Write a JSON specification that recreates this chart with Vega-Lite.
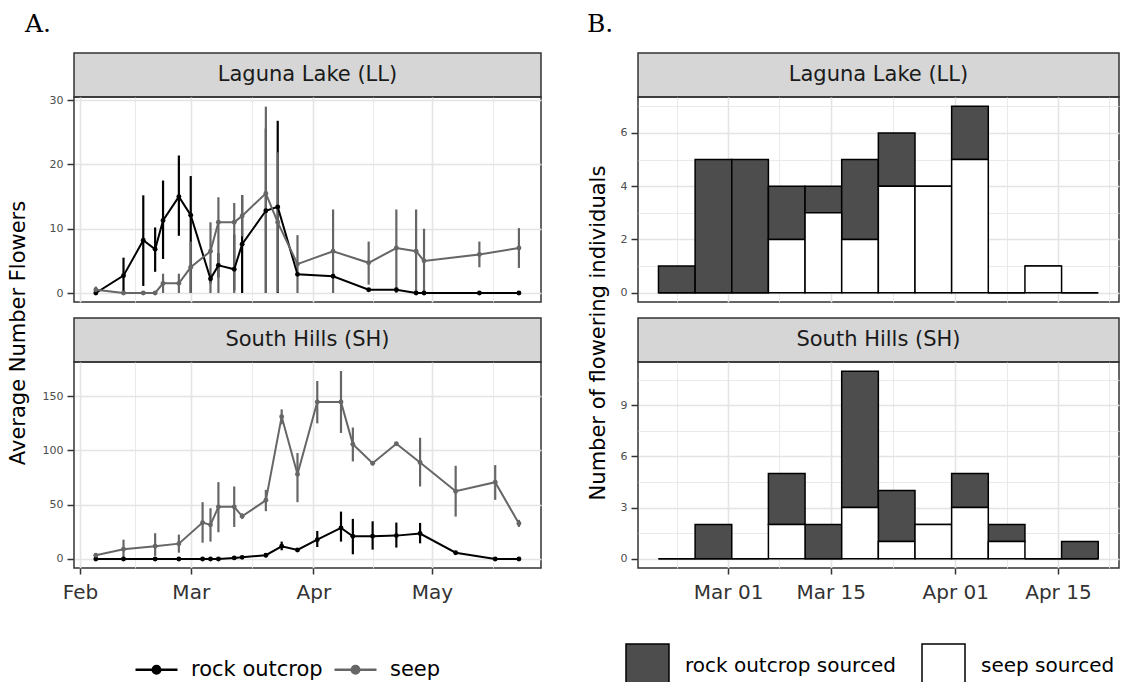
{
"$schema": "https://vega.github.io/schema/vega-lite/v6.json",
"padding": {"left": 6, "top": 12, "right": 0, "bottom": 0},
"background": "white",
"config": {
  "font": "DejaVu Sans",
  "view": {"stroke": "#333333", "strokeWidth": 1.5},
  "axis": {"domain": false, "gridColor": "#e4e4e4", "tickColor": "#333333", "tickWidth": 1.5, "tickSize": 7, "labelFont": "DejaVu Sans", "titleFont": "DejaVu Sans", "titleFontWeight": "normal", "titleFontSize": 21, "titleColor": "#000000"},
  "axisY": {"labelFontSize": 11, "labelColor": "#4d4d4d", "labelPadding": 4},
  "axisX": {"labelFontSize": 20, "labelColor": "#333333", "labelPadding": 8, "tickSize": 6},
  "legend": {"labelFont": "DejaVu Sans", "labelFontSize": 21, "labelColor": "#000000", "labelBaseline": "middle", "labelLimit": 0},
  "title": {"font": "DejaVu Serif", "fontSize": 25, "fontWeight": "normal", "anchor": "start", "color": "#000000"}
},
"datasets": {
  "flw": [
    {"site":"LL","source":"rock outcrop","date":"2019-02-05T00:00","mean":0,"lo":0,"hi":0.3},
    {"site":"LL","source":"rock outcrop","date":"2019-02-12T00:00","mean":2.7,"lo":0,"hi":5.5},
    {"site":"LL","source":"rock outcrop","date":"2019-02-17T00:00","mean":8.2,"lo":1.1,"hi":15.2},
    {"site":"LL","source":"rock outcrop","date":"2019-02-20T00:00","mean":6.8,"lo":3.3,"hi":10.2},
    {"site":"LL","source":"rock outcrop","date":"2019-02-22T00:00","mean":11.3,"lo":5.3,"hi":17.5},
    {"site":"LL","source":"rock outcrop","date":"2019-02-26T00:00","mean":15.0,"lo":8.9,"hi":21.4},
    {"site":"LL","source":"rock outcrop","date":"2019-03-01T00:00","mean":12.1,"lo":0,"hi":18.2},
    {"site":"LL","source":"rock outcrop","date":"2019-03-06T00:00","mean":2.2,"lo":1.5,"hi":3.0},
    {"site":"LL","source":"rock outcrop","date":"2019-03-08T00:00","mean":4.3,"lo":2.4,"hi":6.2},
    {"site":"LL","source":"rock outcrop","date":"2019-03-12T00:00","mean":3.7,"lo":0.4,"hi":9.1},
    {"site":"LL","source":"rock outcrop","date":"2019-03-14T00:00","mean":7.6,"lo":0,"hi":15.2},
    {"site":"LL","source":"rock outcrop","date":"2019-03-20T00:00","mean":12.8,"lo":0,"hi":25.6},
    {"site":"LL","source":"rock outcrop","date":"2019-03-23T00:00","mean":13.4,"lo":0,"hi":26.8},
    {"site":"LL","source":"rock outcrop","date":"2019-03-28T00:00","mean":2.9,"lo":2.9,"hi":2.9},
    {"site":"LL","source":"rock outcrop","date":"2019-04-06T00:00","mean":2.6,"lo":2.6,"hi":2.6},
    {"site":"LL","source":"rock outcrop","date":"2019-04-15T00:00","mean":0.5,"lo":0.5,"hi":0.5},
    {"site":"LL","source":"rock outcrop","date":"2019-04-22T00:00","mean":0.5,"lo":0.5,"hi":0.5},
    {"site":"LL","source":"rock outcrop","date":"2019-04-27T00:00","mean":0,"lo":0,"hi":0},
    {"site":"LL","source":"rock outcrop","date":"2019-04-29T00:00","mean":0,"lo":0,"hi":0},
    {"site":"LL","source":"rock outcrop","date":"2019-05-13T00:00","mean":0,"lo":0,"hi":0},
    {"site":"LL","source":"rock outcrop","date":"2019-05-23T00:00","mean":0,"lo":0,"hi":0},
    {"site":"LL","source":"seep","date":"2019-02-05T00:00","mean":0.5,"lo":0,"hi":1.0},
    {"site":"LL","source":"seep","date":"2019-02-12T00:00","mean":0,"lo":0,"hi":0},
    {"site":"LL","source":"seep","date":"2019-02-17T00:00","mean":0,"lo":0,"hi":0},
    {"site":"LL","source":"seep","date":"2019-02-20T00:00","mean":0,"lo":0,"hi":0},
    {"site":"LL","source":"seep","date":"2019-02-22T00:00","mean":1.5,"lo":0,"hi":3.0},
    {"site":"LL","source":"seep","date":"2019-02-26T00:00","mean":1.5,"lo":0,"hi":3.0},
    {"site":"LL","source":"seep","date":"2019-03-01T00:00","mean":4.0,"lo":0,"hi":8.0},
    {"site":"LL","source":"seep","date":"2019-03-06T00:00","mean":6.5,"lo":0,"hi":11.0},
    {"site":"LL","source":"seep","date":"2019-03-08T00:00","mean":11.0,"lo":0,"hi":14.9},
    {"site":"LL","source":"seep","date":"2019-03-12T00:00","mean":11.0,"lo":0,"hi":14.0},
    {"site":"LL","source":"seep","date":"2019-03-14T00:00","mean":12.0,"lo":8.8,"hi":15.2},
    {"site":"LL","source":"seep","date":"2019-03-20T00:00","mean":15.5,"lo":0,"hi":29.0},
    {"site":"LL","source":"seep","date":"2019-03-23T00:00","mean":11.0,"lo":0.1,"hi":21.9},
    {"site":"LL","source":"seep","date":"2019-03-28T00:00","mean":4.5,"lo":0,"hi":9.0},
    {"site":"LL","source":"seep","date":"2019-04-06T00:00","mean":6.5,"lo":0,"hi":13.0},
    {"site":"LL","source":"seep","date":"2019-04-15T00:00","mean":4.7,"lo":1.3,"hi":8.0},
    {"site":"LL","source":"seep","date":"2019-04-22T00:00","mean":7.0,"lo":0,"hi":13.0},
    {"site":"LL","source":"seep","date":"2019-04-27T00:00","mean":6.5,"lo":0,"hi":13.0},
    {"site":"LL","source":"seep","date":"2019-04-29T00:00","mean":5.0,"lo":0,"hi":10.0},
    {"site":"LL","source":"seep","date":"2019-05-13T00:00","mean":6.0,"lo":4.0,"hi":8.0},
    {"site":"LL","source":"seep","date":"2019-05-23T00:00","mean":7.0,"lo":3.9,"hi":10.1},
    {"site":"SH","source":"rock outcrop","date":"2019-02-05T00:00","mean":0,"lo":0,"hi":0},
    {"site":"SH","source":"rock outcrop","date":"2019-02-12T00:00","mean":0,"lo":0,"hi":0},
    {"site":"SH","source":"rock outcrop","date":"2019-02-20T00:00","mean":0,"lo":0,"hi":0},
    {"site":"SH","source":"rock outcrop","date":"2019-02-26T00:00","mean":0,"lo":0,"hi":0},
    {"site":"SH","source":"rock outcrop","date":"2019-03-04T00:00","mean":0,"lo":0,"hi":0},
    {"site":"SH","source":"rock outcrop","date":"2019-03-06T00:00","mean":0,"lo":0,"hi":0},
    {"site":"SH","source":"rock outcrop","date":"2019-03-08T00:00","mean":0,"lo":0,"hi":0},
    {"site":"SH","source":"rock outcrop","date":"2019-03-12T00:00","mean":1.0,"lo":0.5,"hi":1.5},
    {"site":"SH","source":"rock outcrop","date":"2019-03-14T00:00","mean":1.5,"lo":1.0,"hi":2.0},
    {"site":"SH","source":"rock outcrop","date":"2019-03-20T00:00","mean":3.5,"lo":1.5,"hi":5.5},
    {"site":"SH","source":"rock outcrop","date":"2019-03-24T00:00","mean":11.7,"lo":8,"hi":16},
    {"site":"SH","source":"rock outcrop","date":"2019-03-28T00:00","mean":8.3,"lo":7,"hi":9.5},
    {"site":"SH","source":"rock outcrop","date":"2019-04-02T00:00","mean":17.8,"lo":11,"hi":25.8},
    {"site":"SH","source":"rock outcrop","date":"2019-04-08T00:00","mean":28.6,"lo":16,"hi":43.6},
    {"site":"SH","source":"rock outcrop","date":"2019-04-11T00:00","mean":20.9,"lo":4.3,"hi":36.9},
    {"site":"SH","source":"rock outcrop","date":"2019-04-16T00:00","mean":21.0,"lo":8.6,"hi":34.7},
    {"site":"SH","source":"rock outcrop","date":"2019-04-22T00:00","mean":21.5,"lo":10.5,"hi":33.5},
    {"site":"SH","source":"rock outcrop","date":"2019-04-28T00:00","mean":23.4,"lo":14.4,"hi":33.2},
    {"site":"SH","source":"rock outcrop","date":"2019-05-07T00:00","mean":5.8,"lo":4.5,"hi":7},
    {"site":"SH","source":"rock outcrop","date":"2019-05-17T00:00","mean":0,"lo":0,"hi":0},
    {"site":"SH","source":"rock outcrop","date":"2019-05-23T00:00","mean":0,"lo":0,"hi":0},
    {"site":"SH","source":"seep","date":"2019-02-05T00:00","mean":3.4,"lo":2,"hi":5},
    {"site":"SH","source":"seep","date":"2019-02-12T00:00","mean":8.9,"lo":1,"hi":17.8},
    {"site":"SH","source":"seep","date":"2019-02-20T00:00","mean":11.7,"lo":2.8,"hi":23.7},
    {"site":"SH","source":"seep","date":"2019-02-26T00:00","mean":14.1,"lo":5.8,"hi":22.4},
    {"site":"SH","source":"seep","date":"2019-03-04T00:00","mean":33.5,"lo":15,"hi":52.3},
    {"site":"SH","source":"seep","date":"2019-03-06T00:00","mean":31.4,"lo":16,"hi":46.7},
    {"site":"SH","source":"seep","date":"2019-03-08T00:00","mean":48,"lo":24.6,"hi":70.7},
    {"site":"SH","source":"seep","date":"2019-03-12T00:00","mean":48,"lo":29.5,"hi":66.7},
    {"site":"SH","source":"seep","date":"2019-03-14T00:00","mean":39.3,"lo":37,"hi":42},
    {"site":"SH","source":"seep","date":"2019-03-20T00:00","mean":54,"lo":44,"hi":63.6},
    {"site":"SH","source":"seep","date":"2019-03-24T00:00","mean":131,"lo":124,"hi":137.7},
    {"site":"SH","source":"seep","date":"2019-03-28T00:00","mean":78,"lo":52.3,"hi":97.5},
    {"site":"SH","source":"seep","date":"2019-04-02T00:00","mean":144.5,"lo":124.8,"hi":163.8},
    {"site":"SH","source":"seep","date":"2019-04-08T00:00","mean":144.5,"lo":116,"hi":173},
    {"site":"SH","source":"seep","date":"2019-04-11T00:00","mean":105.7,"lo":89.8,"hi":121},
    {"site":"SH","source":"seep","date":"2019-04-16T00:00","mean":88.2,"lo":86,"hi":90},
    {"site":"SH","source":"seep","date":"2019-04-22T00:00","mean":106,"lo":104,"hi":107.5},
    {"site":"SH","source":"seep","date":"2019-04-28T00:00","mean":88.8,"lo":66.7,"hi":111.6},
    {"site":"SH","source":"seep","date":"2019-05-07T00:00","mean":62.4,"lo":39,"hi":85.8},
    {"site":"SH","source":"seep","date":"2019-05-17T00:00","mean":70.7,"lo":54.4,"hi":86.4},
    {"site":"SH","source":"seep","date":"2019-05-23T00:00","mean":32.6,"lo":29.5,"hi":36}
  ],
  "bins": [
    {"site":"LL","source":"rock outcrop sourced","start":"2019-02-19T12:00","end":"2019-02-24T12:00","n":1},
    {"site":"LL","source":"rock outcrop sourced","start":"2019-02-24T12:00","end":"2019-03-01T12:00","n":5},
    {"site":"LL","source":"rock outcrop sourced","start":"2019-03-01T12:00","end":"2019-03-06T12:00","n":5},
    {"site":"LL","source":"rock outcrop sourced","start":"2019-03-06T12:00","end":"2019-03-11T12:00","n":2},
    {"site":"LL","source":"rock outcrop sourced","start":"2019-03-11T12:00","end":"2019-03-16T12:00","n":1},
    {"site":"LL","source":"rock outcrop sourced","start":"2019-03-16T12:00","end":"2019-03-21T12:00","n":3},
    {"site":"LL","source":"rock outcrop sourced","start":"2019-03-21T12:00","end":"2019-03-26T12:00","n":2},
    {"site":"LL","source":"rock outcrop sourced","start":"2019-03-26T12:00","end":"2019-03-31T12:00","n":0},
    {"site":"LL","source":"rock outcrop sourced","start":"2019-03-31T12:00","end":"2019-04-05T12:00","n":2},
    {"site":"LL","source":"rock outcrop sourced","start":"2019-04-05T12:00","end":"2019-04-10T12:00","n":0},
    {"site":"LL","source":"rock outcrop sourced","start":"2019-04-10T12:00","end":"2019-04-15T12:00","n":0},
    {"site":"LL","source":"rock outcrop sourced","start":"2019-04-15T12:00","end":"2019-04-20T12:00","n":0},
    {"site":"LL","source":"seep sourced","start":"2019-02-19T12:00","end":"2019-02-24T12:00","n":0},
    {"site":"LL","source":"seep sourced","start":"2019-02-24T12:00","end":"2019-03-01T12:00","n":0},
    {"site":"LL","source":"seep sourced","start":"2019-03-01T12:00","end":"2019-03-06T12:00","n":0},
    {"site":"LL","source":"seep sourced","start":"2019-03-06T12:00","end":"2019-03-11T12:00","n":2},
    {"site":"LL","source":"seep sourced","start":"2019-03-11T12:00","end":"2019-03-16T12:00","n":3},
    {"site":"LL","source":"seep sourced","start":"2019-03-16T12:00","end":"2019-03-21T12:00","n":2},
    {"site":"LL","source":"seep sourced","start":"2019-03-21T12:00","end":"2019-03-26T12:00","n":4},
    {"site":"LL","source":"seep sourced","start":"2019-03-26T12:00","end":"2019-03-31T12:00","n":4},
    {"site":"LL","source":"seep sourced","start":"2019-03-31T12:00","end":"2019-04-05T12:00","n":5},
    {"site":"LL","source":"seep sourced","start":"2019-04-05T12:00","end":"2019-04-10T12:00","n":0},
    {"site":"LL","source":"seep sourced","start":"2019-04-10T12:00","end":"2019-04-15T12:00","n":1},
    {"site":"LL","source":"seep sourced","start":"2019-04-15T12:00","end":"2019-04-20T12:00","n":0},
    {"site":"SH","source":"rock outcrop sourced","start":"2019-02-19T12:00","end":"2019-02-24T12:00","n":0},
    {"site":"SH","source":"rock outcrop sourced","start":"2019-02-24T12:00","end":"2019-03-01T12:00","n":2},
    {"site":"SH","source":"rock outcrop sourced","start":"2019-03-01T12:00","end":"2019-03-06T12:00","n":0},
    {"site":"SH","source":"rock outcrop sourced","start":"2019-03-06T12:00","end":"2019-03-11T12:00","n":3},
    {"site":"SH","source":"rock outcrop sourced","start":"2019-03-11T12:00","end":"2019-03-16T12:00","n":2},
    {"site":"SH","source":"rock outcrop sourced","start":"2019-03-16T12:00","end":"2019-03-21T12:00","n":8},
    {"site":"SH","source":"rock outcrop sourced","start":"2019-03-21T12:00","end":"2019-03-26T12:00","n":3},
    {"site":"SH","source":"rock outcrop sourced","start":"2019-03-26T12:00","end":"2019-03-31T12:00","n":0},
    {"site":"SH","source":"rock outcrop sourced","start":"2019-03-31T12:00","end":"2019-04-05T12:00","n":2},
    {"site":"SH","source":"rock outcrop sourced","start":"2019-04-05T12:00","end":"2019-04-10T12:00","n":1},
    {"site":"SH","source":"rock outcrop sourced","start":"2019-04-10T12:00","end":"2019-04-15T12:00","n":0},
    {"site":"SH","source":"rock outcrop sourced","start":"2019-04-15T12:00","end":"2019-04-20T12:00","n":1},
    {"site":"SH","source":"seep sourced","start":"2019-02-19T12:00","end":"2019-02-24T12:00","n":0},
    {"site":"SH","source":"seep sourced","start":"2019-02-24T12:00","end":"2019-03-01T12:00","n":0},
    {"site":"SH","source":"seep sourced","start":"2019-03-01T12:00","end":"2019-03-06T12:00","n":0},
    {"site":"SH","source":"seep sourced","start":"2019-03-06T12:00","end":"2019-03-11T12:00","n":2},
    {"site":"SH","source":"seep sourced","start":"2019-03-11T12:00","end":"2019-03-16T12:00","n":0},
    {"site":"SH","source":"seep sourced","start":"2019-03-16T12:00","end":"2019-03-21T12:00","n":3},
    {"site":"SH","source":"seep sourced","start":"2019-03-21T12:00","end":"2019-03-26T12:00","n":1},
    {"site":"SH","source":"seep sourced","start":"2019-03-26T12:00","end":"2019-03-31T12:00","n":2},
    {"site":"SH","source":"seep sourced","start":"2019-03-31T12:00","end":"2019-04-05T12:00","n":3},
    {"site":"SH","source":"seep sourced","start":"2019-04-05T12:00","end":"2019-04-10T12:00","n":1},
    {"site":"SH","source":"seep sourced","start":"2019-04-10T12:00","end":"2019-04-15T12:00","n":0},
    {"site":"SH","source":"seep sourced","start":"2019-04-15T12:00","end":"2019-04-20T12:00","n":0}
  ]
},
"spacing": 44,
"hconcat": [
{
  "title": {"text": "A.", "frame": "group", "anchor": "start", "dx": -49, "offset": 15},
  "bounds": "flush",
  "spacing": 0,
  "vconcat": [
    {
      "width": 467, "height": 44,
      "data": {"values": [{"label": "Laguna Lake (LL)"}]},
      "mark": {"type": "text", "fontSize": 21, "color": "#1a1a1a", "baseline": "middle", "align": "center"},
      "encoding": {"text": {"field": "label"}},
      "view": {"fill": "#d6d6d6", "stroke": "#333333", "strokeWidth": 1.5}
    },
    {
      "width": 467, "height": 205,
      "data": {"name": "flw"},
      "transform": [{"filter": "datum.site == 'LL'"}],
      "encoding": {
        "x": {"field": "date", "type": "temporal",
          "scale": {"domain": [{"year":2019,"month":1,"date":30,"hours":11,"minutes":30},{"year":2019,"month":5,"date":28,"hours":14}]},
          "axis": {"title": null, "labels": false, "ticks": false,
            "values": [{"year":2019,"month":2,"date":1},{"year":2019,"month":2,"date":15},{"year":2019,"month":3,"date":1},{"year":2019,"month":3,"date":16,"hours":12},{"year":2019,"month":4,"date":1},{"year":2019,"month":4,"date":16},{"year":2019,"month":5,"date":1},{"year":2019,"month":5,"date":16,"hours":12}],
            "gridWidth": {"condition": {"test": "date(datum.value) == 1", "value": 1.6}, "value": 0.8}}},
        "color": {"field": "source", "type": "nominal",
          "scale": {"domain": ["rock outcrop", "seep"], "range": ["#000000", "#666666"]},
          "legend": {"orient": "none", "legendX": 60, "legendY": 594, "direction": "horizontal", "title": null,
            "symbolType": "M-1,0H1M-0.18,0A0.18,0.18,0,1,1,0.18,0A0.18,0.18,0,1,1,-0.18,0",
            "symbolSize": 1764, "symbolStrokeWidth": 2.5, "labelOffset": 12, "columnPadding": 6}}
      },
      "layer": [
        {"mark": {"type": "rule", "strokeWidth": 2.2},
         "encoding": {
           "y": {"field": "lo", "type": "quantitative", "title": "Average Number Flowers",
             "scale": {"domain": [-1.4, 30.5], "nice": false, "zero": false},
             "axis": {"values": [0,5,10,15,20,25,30], "labelExpr": "datum.value % 10 == 0 ? datum.label : ''",
               "tickOpacity": {"condition": {"test": "datum.value % 10 != 0", "value": 0}, "value": 1},
               "gridWidth": {"condition": {"test": "datum.value % 10 == 0", "value": 1.6}, "value": 0.8},
               "titleX": -46, "titleY": 235.5}},
           "y2": {"field": "hi"}}},
        {"mark": {"type": "line", "strokeWidth": 2},
         "encoding": {"y": {"field": "mean", "type": "quantitative", "title": "Average Number Flowers"}}},
        {"mark": {"type": "point", "filled": true, "size": 24, "opacity": 1},
         "encoding": {"y": {"field": "mean", "type": "quantitative", "title": "Average Number Flowers"}}}
      ]
    },
    {
      "width": 467, "height": 16,
      "data": {"values": [{}]},
      "mark": {"type": "text", "text": ""},
      "encoding": {},
      "view": {"fill": "transparent", "stroke": "transparent"}
    },
    {
      "width": 467, "height": 44,
      "data": {"values": [{"label": "South Hills (SH)"}]},
      "mark": {"type": "text", "fontSize": 21, "color": "#1a1a1a", "baseline": "middle", "align": "center"},
      "encoding": {"text": {"field": "label"}},
      "view": {"fill": "#d6d6d6", "stroke": "#333333", "strokeWidth": 1.5}
    },
    {
      "width": 467, "height": 206,
      "data": {"name": "flw"},
      "transform": [{"filter": "datum.site == 'SH'"}],
      "encoding": {
        "x": {"field": "date", "type": "temporal",
          "scale": {"domain": [{"year":2019,"month":1,"date":30,"hours":11,"minutes":30},{"year":2019,"month":5,"date":28,"hours":14}]},
          "axis": {"title": null,
            "values": [{"year":2019,"month":2,"date":1},{"year":2019,"month":2,"date":15},{"year":2019,"month":3,"date":1},{"year":2019,"month":3,"date":16,"hours":12},{"year":2019,"month":4,"date":1},{"year":2019,"month":4,"date":16},{"year":2019,"month":5,"date":1},{"year":2019,"month":5,"date":16,"hours":12}],
            "labelExpr": "date(datum.value) == 1 ? timeFormat(datum.value, '%b') : ''",
            "tickOpacity": {"condition": {"test": "date(datum.value) != 1", "value": 0}, "value": 1},
            "gridWidth": {"condition": {"test": "date(datum.value) == 1", "value": 1.6}, "value": 0.8}}},
        "color": {"field": "source", "type": "nominal",
          "scale": {"domain": ["rock outcrop", "seep"], "range": ["#000000", "#666666"]},
          "legend": {"orient": "none", "legendX": 60, "legendY": 594, "direction": "horizontal", "title": null,
            "symbolType": "M-1,0H1M-0.18,0A0.18,0.18,0,1,1,0.18,0A0.18,0.18,0,1,1,-0.18,0",
            "symbolSize": 1764, "symbolStrokeWidth": 2.5, "labelOffset": 12, "columnPadding": 6}}
      },
      "layer": [
        {"mark": {"type": "rule", "strokeWidth": 2.2},
         "encoding": {
           "y": {"field": "lo", "type": "quantitative", "title": null,
             "scale": {"domain": [-8.3, 181.3], "nice": false, "zero": false},
             "axis": {"values": [0,25,50,75,100,125,150,175], "labelExpr": "datum.value % 50 == 0 ? datum.label : ''",
               "tickOpacity": {"condition": {"test": "datum.value % 50 != 0", "value": 0}, "value": 1},
               "gridWidth": {"condition": {"test": "datum.value % 50 == 0", "value": 1.6}, "value": 0.8}}},
           "y2": {"field": "hi"}}},
        {"mark": {"type": "line", "strokeWidth": 2},
         "encoding": {"y": {"field": "mean", "type": "quantitative", "title": null}}},
        {"mark": {"type": "point", "filled": true, "size": 24, "opacity": 1},
         "encoding": {"y": {"field": "mean", "type": "quantitative", "title": null}}}
      ]
    }
  ]
},
{
  "title": {"text": "B.", "frame": "group", "anchor": "start", "dx": -51, "offset": 15},
  "bounds": "flush",
  "spacing": 0,
  "vconcat": [
    {
      "width": 481, "height": 44,
      "data": {"values": [{"label": "Laguna Lake (LL)"}]},
      "mark": {"type": "text", "fontSize": 21, "color": "#1a1a1a", "baseline": "middle", "align": "center"},
      "encoding": {"text": {"field": "label"}},
      "view": {"fill": "#d6d6d6", "stroke": "#333333", "strokeWidth": 1.5}
    },
    {
      "width": 481, "height": 205,
      "data": {"name": "bins"},
      "transform": [{"filter": "datum.site == 'LL'"}, {"stack": "n", "groupby": ["start"], "sort": [{"field": "source", "order": "descending"}], "as": ["y0", "y1"]}],
      "mark": {"type": "bar", "stroke": "#000000", "strokeWidth": 1.5},
      "encoding": {
        "x": {"field": "start", "type": "temporal",
          "scale": {"domain": [{"year":2019,"month":2,"date":16,"hours":17},{"year":2019,"month":4,"date":23,"hours":8}]},
          "axis": {"title": null, "labels": false, "ticks": false,
            "values": [{"year":2019,"month":2,"date":22},{"year":2019,"month":3,"date":1},{"year":2019,"month":3,"date":8},{"year":2019,"month":3,"date":15},{"year":2019,"month":3,"date":23,"hours":12},{"year":2019,"month":4,"date":1},{"year":2019,"month":4,"date":8},{"year":2019,"month":4,"date":15},{"year":2019,"month":4,"date":22}],
            "gridWidth": {"condition": {"test": "date(datum.value) == 1 || date(datum.value) == 15", "value": 1.6}, "value": 0.8}}},
        "x2": {"field": "end"},
        "y": {"field": "y0", "type": "quantitative", "title": "Number of flowering individuals",
          "scale": {"domain": [-0.35, 7.35], "nice": false, "zero": false},
          "axis": {"values": [0,1,2,3,4,5,6,7], "labelExpr": "datum.value % 2 == 0 ? datum.label : ''",
            "tickOpacity": {"condition": {"test": "datum.value % 2 != 0", "value": 0}, "value": 1},
            "gridWidth": {"condition": {"test": "datum.value % 2 == 0", "value": 1.6}, "value": 0.8},
            "titleX": -30, "titleY": 235.5}},
        "y2": {"field": "y1"},
        "fill": {"field": "source", "type": "nominal",
          "scale": {"domain": ["rock outcrop sourced", "seep sourced"], "range": ["#4d4d4d", "#ffffff"]},
          "legend": {"orient": "none", "legendX": 551, "legendY": 590, "direction": "horizontal", "title": null,
            "symbolType": "square", "symbolSize": 1849, "symbolStrokeColor": "#000000", "symbolStrokeWidth": 1.5,
            "labelOffset": 15, "columnPadding": 23, "labelLimit": 0, "labelFontSize": 20}}
      }
    },
    {
      "width": 481, "height": 16,
      "data": {"values": [{}]},
      "mark": {"type": "text", "text": ""},
      "encoding": {},
      "view": {"fill": "transparent", "stroke": "transparent"}
    },
    {
      "width": 481, "height": 44,
      "data": {"values": [{"label": "South Hills (SH)"}]},
      "mark": {"type": "text", "fontSize": 21, "color": "#1a1a1a", "baseline": "middle", "align": "center"},
      "encoding": {"text": {"field": "label"}},
      "view": {"fill": "#d6d6d6", "stroke": "#333333", "strokeWidth": 1.5}
    },
    {
      "width": 481, "height": 206,
      "data": {"name": "bins"},
      "transform": [{"filter": "datum.site == 'SH'"}, {"stack": "n", "groupby": ["start"], "sort": [{"field": "source", "order": "descending"}], "as": ["y0", "y1"]}],
      "mark": {"type": "bar", "stroke": "#000000", "strokeWidth": 1.5},
      "encoding": {
        "x": {"field": "start", "type": "temporal",
          "scale": {"domain": [{"year":2019,"month":2,"date":16,"hours":17},{"year":2019,"month":4,"date":23,"hours":8}]},
          "axis": {"title": null,
            "values": [{"year":2019,"month":2,"date":22},{"year":2019,"month":3,"date":1},{"year":2019,"month":3,"date":8},{"year":2019,"month":3,"date":15},{"year":2019,"month":3,"date":23,"hours":12},{"year":2019,"month":4,"date":1},{"year":2019,"month":4,"date":8},{"year":2019,"month":4,"date":15},{"year":2019,"month":4,"date":22}],
            "labelExpr": "(date(datum.value) == 1 || date(datum.value) == 15) ? timeFormat(datum.value, '%b %d') : ''",
            "tickOpacity": {"condition": {"test": "date(datum.value) == 1 || date(datum.value) == 15", "value": 1}, "value": 0},
            "gridWidth": {"condition": {"test": "date(datum.value) == 1 || date(datum.value) == 15", "value": 1.6}, "value": 0.8}}},
        "x2": {"field": "end"},
        "y": {"field": "y0", "type": "quantitative", "title": null,
          "scale": {"domain": [-0.55, 11.55], "nice": false, "zero": false},
          "axis": {"values": [0,1.5,3,4.5,6,7.5,9,10.5], "labelExpr": "datum.value % 3 == 0 ? datum.label : ''",
            "tickOpacity": {"condition": {"test": "datum.value % 3 != 0", "value": 0}, "value": 1},
            "gridWidth": {"condition": {"test": "datum.value % 3 == 0", "value": 1.6}, "value": 0.8}}},
        "y2": {"field": "y1"},
        "fill": {"field": "source", "type": "nominal",
          "scale": {"domain": ["rock outcrop sourced", "seep sourced"], "range": ["#4d4d4d", "#ffffff"]},
          "legend": {"orient": "none", "legendX": 551, "legendY": 590, "direction": "horizontal", "title": null,
            "symbolType": "square", "symbolSize": 1849, "symbolStrokeColor": "#000000", "symbolStrokeWidth": 1.5,
            "labelOffset": 15, "columnPadding": 23, "labelLimit": 0, "labelFontSize": 20}}
      }
    }
  ]
}
]
}
